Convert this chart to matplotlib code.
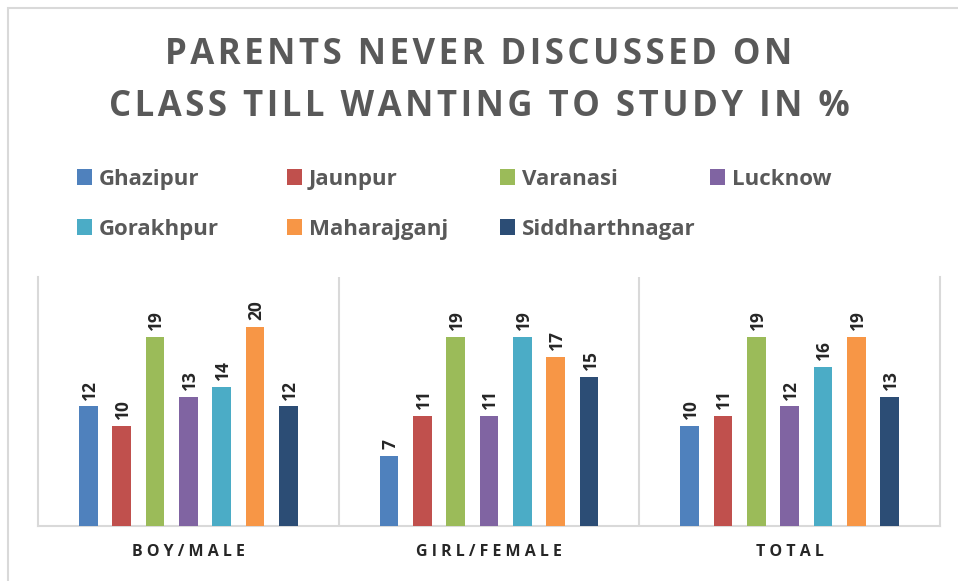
from matplotlib import pyplot as plt
from matplotlib.patches import Rectangle
import numpy as np

groups = ['BOY/MALE', 'GIRL/FEMALE', 'TOTAL']
districts = ['Ghazipur', 'Jaunpur', 'Varanasi', 'Lucknow',
             'Gorakhpur', 'Maharajganj', 'Siddharthnagar']
ghazipur = [12, 7, 10]
jaunpur = [10, 11, 11]
varanasi = [19, 19, 19]
lucknow = [13, 11, 12]
gorakhpur = [14, 19, 16]
maharajganj = [20, 17, 19]
siddharthnagar = [12, 15, 13]

colors = ['#4F81BD', '#C0504D', '#9BBB59', '#8064A2',
          '#4BACC6', '#F79646', '#2C4D75']

plt.rcParams['font.family'] = ['Open Sans', 'DejaVu Sans']

W, H = 958, 581
fig = plt.figure(figsize=(W/100, H/100), dpi=100)
ax = fig.add_axes([38/W, 55/H, (940-38)/W, (526-277)/H])

series = [ghazipur, jaunpur, varanasi, lucknow, gorakhpur, maharajganj, siddharthnagar]
x = np.arange(len(groups))
step = 0.111
width = 0.062
for i, (name, vals) in enumerate(zip(districts, series)):
    pos = x + (i - 3) * step
    ax.bar(pos, vals, width, color=colors[i], label=name, zorder=3)
    for px, v in zip(pos, vals):
        ax.annotate(str(v), (px, v), xytext=(1, 5), textcoords='offset points',
                    rotation=90, ha='center', va='bottom', fontsize=12.5,
                    fontweight='bold', color='#262626')

ax.set_xlim(-0.5, 2.5)
ax.set_ylim(0, 25)
ax.set_yticks([])
ax.set_xticks(x)
ax.set_xticklabels([' '.join(g) for g in groups], fontsize=11.5, fontweight='bold',
                   color='#262626')
ax.tick_params(axis='x', length=0, pad=13)
for s in ['left', 'right', 'bottom']:
    ax.spines[s].set_color('#D9D9D9')
    ax.spines[s].set_linewidth(1.5)
ax.spines['top'].set_visible(False)
for xv in [0.5, 1.5]:
    ax.axvline(xv, color='#D9D9D9', linewidth=1.5, zorder=1)

# title with a bit of letter spacing
fig.text(0.5, 1 - 55/H, '\u200a'.join('PARENTS NEVER DISCUSSED ON'), ha='center', va='center',
         fontsize=25, fontweight='bold', color='#595959')
fig.text(0.5, 1 - 107/H, '\u200a'.join('CLASS TILL WANTING TO STUDY IN %'), ha='center', va='center',
         fontsize=25, fontweight='bold', color='#595959')

# legend laid out like the Excel one: 4 columns, row-major
col_x = [77, 287, 500, 710]
row_y = [177, 227]
for i, name in enumerate(districts):
    cx = col_x[i % 4]
    cy = row_y[i // 4]
    fig.add_artist(Rectangle((cx/W, (H - cy - 7.5)/H), 15/W, 15/H,
                             transform=fig.transFigure, facecolor=colors[i],
                             edgecolor='none'))
    fig.text((cx + 22)/W, 1 - cy/H, name, ha='left', va='center_baseline',
             fontsize=16, fontweight='bold', color='#595959')

fig.add_artist(Rectangle((8/W, -0.1), 1.2, 1.1 - 8/H, transform=fig.transFigure,
                         fill=False, edgecolor='#D9D9D9', linewidth=1.5))

plt.savefig('out.png', dpi=100)
